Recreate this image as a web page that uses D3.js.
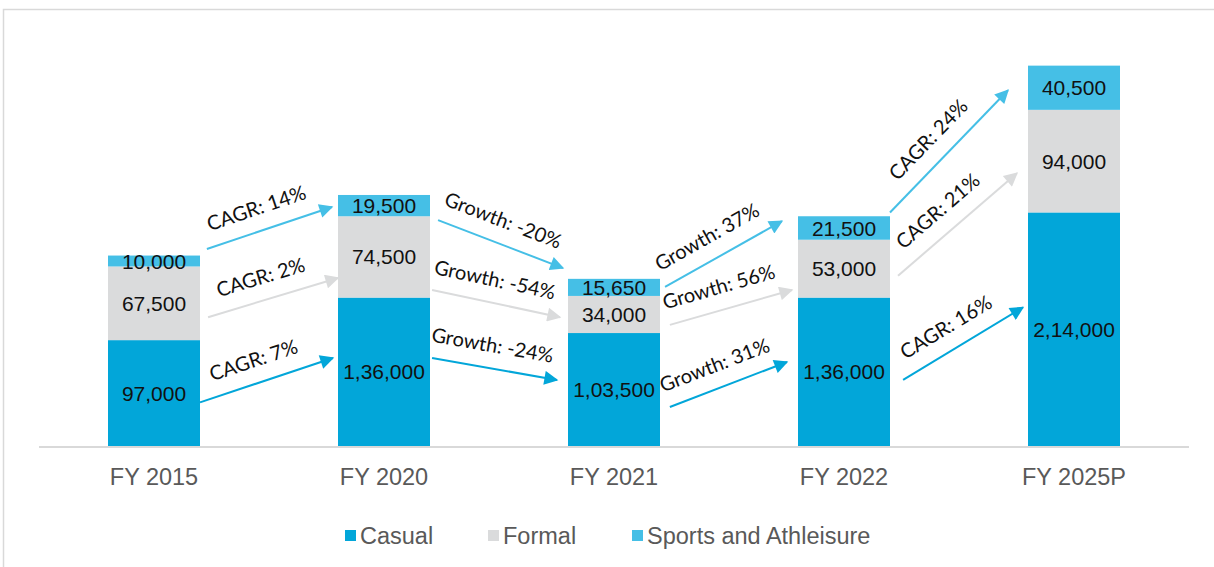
<!DOCTYPE html>
<html>
<head>
<meta charset="utf-8">
<script src="https://cdn.jsdelivr.net/npm/d3@7"></script>
<style>
  body { margin: 0; background: #fff; }
  svg { display: block; }
</style>
</head>
<body>
<svg id="chart"></svg>
<script>
// data
const categories = ["FY 2015", "FY 2020", "FY 2021", "FY 2022", "FY 2025P"];
const seriesNames = ["Casual", "Formal", "Sports and Athleisure"];
const casual = [97000, 136000, 103500, 136000, 214000];
const formal = [67500, 74500, 34000, 53000, 94000];
const sports = [10000, 19500, 15650, 21500, 40500];

// growth arrows: [from index, from value, to index, to value, series, label]
const arrows = [
  [0.23, 180500, 0.774, 219000, 2, "CAGR: 14%"],
  [0.235, 118000, 0.80, 154000, 1, "CAGR: 2%"],
  [0.20, 40000, 0.778, 80600, 0, "CAGR: 7%"],
  [1.235, 207000, 1.778, 163000, 2, "Growth: -20%"],
  [1.209, 143000, 1.765, 118000, 1, "Growth: -54%"],
  [1.209, 80600, 1.752, 60500, 0, "Growth: -24%"],
  [2.222, 145700, 2.73, 206000, 2, "Growth: 37%"],
  [2.243, 111000, 2.774, 143000, 1, "Growth: 56%"],
  [2.243, 35700, 2.752, 77000, 0, "Growth: 31%"],
  [3.20, 214000, 3.713, 326000, 2, "CAGR: 24%"],
  [3.235, 156000, 3.752, 250000, 1, "CAGR: 21%"],
  [3.257, 60500, 3.778, 127000, 0, "CAGR: 16%"]
];

const colors = ["#02a6d9", "#dadbdc", "#45bfe6"];

const width = 1214, height = 567;
const svg = d3.select("#chart").attr("width", width).attr("height", height);

// chart frame
svg.append("rect")
  .attr("x", 3.5).attr("y", 9.5)
  .attr("width", 1230).attr("height", 600)
  .attr("fill", "none").attr("stroke", "#d9d9d9").attr("stroke-width", 1.5);

const x = d3.scaleBand().domain(categories).range([39, 1189])
  .paddingInner(0.6).paddingOuter(0.3);
const y = d3.scaleLinear().domain([0, 350000]).range([446, 64]);
const xi = d3.scaleLinear().domain([0, categories.length - 1])
  .range([x(categories[0]) + x.bandwidth() / 2, x(categories[categories.length - 1]) + x.bandwidth() / 2]);

const table = categories.map((c, i) => ({
  cat: c, Casual: casual[i], Formal: formal[i], "Sports and Athleisure": sports[i]
}));
const stacked = d3.stack().keys(seriesNames)(table);

// indian digit grouping: 1,36,000
function indian(v) {
  const s = String(v);
  if (s.length <= 3) return s;
  const last3 = s.slice(-3);
  let rest = s.slice(0, -3);
  return rest.replace(/\B(?=(\d{2})+(?!\d))/g, ",") + "," + last3;
}

const layers = svg.append("g").selectAll("g").data(stacked).enter().append("g")
  .attr("fill", (d, i) => colors[i]);

layers.selectAll("rect").data(d => d).enter().append("rect")
  .attr("x", d => x(d.data.cat))
  .attr("y", d => y(d[1]))
  .attr("width", x.bandwidth())
  .attr("height", d => y(d[0]) - y(d[1]));

layers.selectAll("text").data(d => d).enter().append("text")
  .attr("x", d => x(d.data.cat) + x.bandwidth() / 2)
  .attr("y", d => (y(d[0]) + y(d[1])) / 2)
  .attr("dy", "0.36em")
  .attr("text-anchor", "middle")
  .attr("font-family", "Liberation Sans, Arial, sans-serif")
  .attr("font-size", 21)
  .attr("fill", "#111")
  .text(d => indian(d[1] - d[0]));

// baseline
svg.append("line")
  .attr("x1", 39).attr("x2", 1189)
  .attr("y1", y(0) + 1).attr("y2", y(0) + 1)
  .attr("stroke", "#d9d9d9").attr("stroke-width", 2);

// category labels
svg.append("g").selectAll("text").data(categories).enter().append("text")
  .attr("x", d => x(d) + x.bandwidth() / 2)
  .attr("y", 477)
  .attr("dy", "0.36em")
  .attr("text-anchor", "middle")
  .attr("font-family", "Liberation Sans, Arial, sans-serif")
  .attr("font-size", 23.5)
  .attr("fill", "#595959")
  .text(d => d);

// arrow markers
const defs = svg.append("defs");
colors.forEach((c, i) => {
  defs.append("marker")
    .attr("id", "head" + i)
    .attr("viewBox", "0 0 10 10")
    .attr("refX", 9).attr("refY", 5)
    .attr("markerUnits", "userSpaceOnUse")
    .attr("markerWidth", 18).attr("markerHeight", 14)
    .attr("orient", "auto")
    .append("path")
    .attr("d", "M0,0 L10,5 L0,10 Z")
    .attr("fill", c);
});

const ag = svg.append("g");
arrows.forEach(a => {
  const x1 = xi(a[0]), y1 = y(a[1]), x2 = xi(a[2]), y2 = y(a[3]);
  ag.append("line")
    .attr("x1", x1).attr("y1", y1).attr("x2", x2).attr("y2", y2)
    .attr("stroke", colors[a[4]]).attr("stroke-width", 2)
    .attr("marker-end", "url(#head" + a[4] + ")");

  const ang = Math.atan2(y2 - y1, x2 - x1);
  const deg = ang * 180 / Math.PI;
  const mx = (x1 + x2) / 2, my = (y1 + y2) / 2;
  // baseline sits above the line, a bit back along it
  const off = 16, back = -6;
  const lx = mx + Math.sin(ang) * off + Math.cos(ang) * back;
  const ly = my - Math.cos(ang) * off + Math.sin(ang) * back;
  ag.append("text")
    .attr("transform", `translate(${lx},${ly}) rotate(${deg})`)
    .attr("text-anchor", "middle")
    .attr("font-family", "Lato, Open Sans, sans-serif")
    .attr("font-size", 20)
    .attr("fill", "#111")
    .text(a[5]);
});

// legend
const legendX = [345, 488, 632];
const lg = svg.append("g").selectAll("g").data(seriesNames).enter().append("g")
  .attr("transform", (d, i) => `translate(${legendX[i]},536)`);
lg.append("rect")
  .attr("x", 0).attr("y", -6).attr("width", 11).attr("height", 11)
  .attr("fill", (d, i) => colors[i]);
lg.append("text")
  .attr("x", 15).attr("y", 0)
  .attr("dy", "0.36em")
  .attr("font-family", "Liberation Sans, Arial, sans-serif")
  .attr("font-size", 23.5)
  .attr("fill", "#595959")
  .text(d => d);
</script>
</body>
</html>
